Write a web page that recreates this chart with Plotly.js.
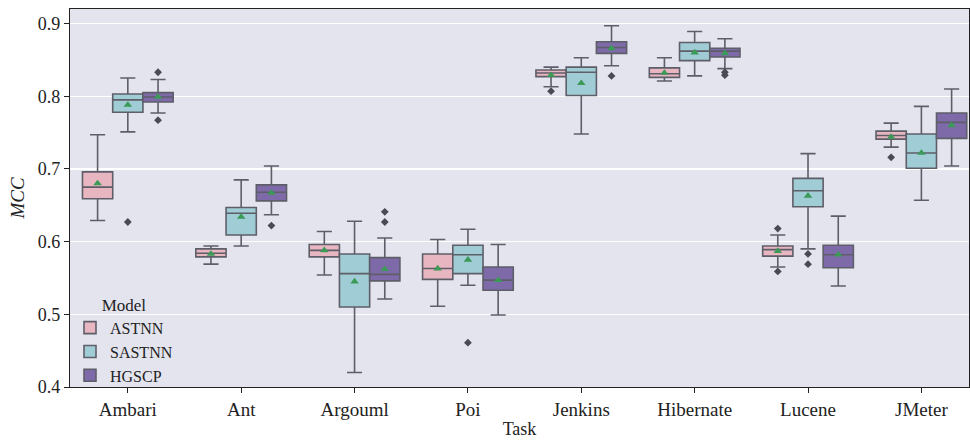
<!DOCTYPE html>
<html>
<head>
<meta charset="utf-8">
<script src="https://cdn.plot.ly/plotly-3.0.1.min.js"></script>
<style>html,body{margin:0;padding:0;background:#fff;}#chart{width:970px;height:441px;}</style>
</head>
<body>
<div id="chart"></div>
<script>
const tasks = ["Ambari","Ant","Argouml","Poi","Jenkins","Hibernate","Lucene","JMeter"];
const models = ["ASTNN","SASTNN","HGSCP"];
const colors = ["#e8b6c0","#a0ccd5","#7e6aa9"];

// Box statistics per model, ordered by task
const astnnLow  = [0.629,0.569,0.554,0.511,0.813,0.821,0.565,0.730];
const astnnQ1   = [0.659,0.579,0.579,0.548,0.827,0.826,0.580,0.741];
const astnnMed  = [0.675,0.584,0.588,0.563,0.832,0.831,0.589,0.746];
const astnnQ3   = [0.696,0.590,0.596,0.583,0.836,0.839,0.594,0.752];
const astnnHigh = [0.747,0.594,0.614,0.603,0.840,0.853,0.609,0.763];
const astnnMean = [0.680,0.583,0.588,0.563,0.829,0.832,0.587,0.744];

const sastnnLow  = [0.751,0.594,0.420,0.540,0.748,0.828,0.590,0.657];
const sastnnQ1   = [0.778,0.609,0.510,0.556,0.801,0.849,0.648,0.701];
const sastnnMed  = [0.795,0.639,0.556,0.582,0.833,0.862,0.670,0.722];
const sastnnQ3   = [0.803,0.647,0.583,0.595,0.840,0.874,0.687,0.748];
const sastnnHigh = [0.825,0.685,0.628,0.617,0.853,0.889,0.721,0.786];
const sastnnMean = [0.788,0.634,0.545,0.575,0.818,0.860,0.663,0.722];

const hgscpLow  = [0.777,0.637,0.521,0.499,0.842,0.838,0.539,0.704];
const hgscpQ1   = [0.792,0.656,0.546,0.533,0.859,0.854,0.564,0.742];
const hgscpMed  = [0.799,0.668,0.555,0.547,0.867,0.862,0.582,0.764];
const hgscpQ3   = [0.805,0.678,0.578,0.565,0.875,0.866,0.595,0.777];
const hgscpHigh = [0.823,0.704,0.605,0.596,0.897,0.879,0.635,0.810];
const hgscpMean = [0.799,0.667,0.562,0.547,0.866,0.859,0.582,0.760];

// Outliers: task label and value
const astnnOutTask  = ["Jenkins","Lucene","Lucene","JMeter"];
const astnnOutVal   = [0.807,0.618,0.559,0.716];
const sastnnOutTask = ["Ambari","Poi","Lucene","Lucene"];
const sastnnOutVal  = [0.627,0.461,0.583,0.569];
const hgscpOutTask  = ["Ambari","Ambari","Ant","Argouml","Argouml","Jenkins","Hibernate","Hibernate"];
const hgscpOutVal   = [0.833,0.767,0.622,0.641,0.627,0.828,0.833,0.829];

const stats = [
  {low:astnnLow,q1:astnnQ1,med:astnnMed,q3:astnnQ3,high:astnnHigh,mean:astnnMean,ot:astnnOutTask,ov:astnnOutVal},
  {low:sastnnLow,q1:sastnnQ1,med:sastnnMed,q3:sastnnQ3,high:sastnnHigh,mean:sastnnMean,ot:sastnnOutTask,ov:sastnnOutVal},
  {low:hgscpLow,q1:hgscpQ1,med:hgscpMed,q3:hgscpQ3,high:hgscpHigh,mean:hgscpMean,ot:hgscpOutTask,ov:hgscpOutVal}
];

const lineCol = "#5e5e69";
const traces = [];
models.forEach((m,i)=>{
  const s = stats[i];
  traces.push({
    type:"box", name:m, x:tasks, q1:s.q1, median:s.med, q3:s.q3,
    lowerfence:s.low, upperfence:s.high,
    offsetgroup:m, alignmentgroup:"a",
    fillcolor:colors[i], line:{color:lineCol,width:1.6},
    whiskerwidth:0.5, boxpoints:false, hoverinfo:"skip"
  });
});
models.forEach((m,i)=>{
  const s = stats[i];
  traces.push({
    type:"scatter", mode:"markers", x:tasks, y:s.mean, showlegend:false,
    offsetgroup:m, alignmentgroup:"a",
    marker:{symbol:"triangle-up", size:7.5, color:"#3c9a57"}, hoverinfo:"skip"
  });
  traces.push({
    type:"scatter", mode:"markers", x:s.ot, y:s.ov, showlegend:false,
    offsetgroup:m, alignmentgroup:"a",
    marker:{symbol:"diamond", size:6, color:"#4a4a55"}, hoverinfo:"skip"
  });
});

const fam = "Liberation Serif, Times New Roman, serif";
const txt = "#222";
const layout = {
  width:970, height:441,
  margin:{l:70, r:1, t:9, b:54},
  paper_bgcolor:"#ffffff", plot_bgcolor:"#e4e4ee",
  font:{family:fam, color:txt, size:18},
  boxmode:"group", boxgap:0.2, boxgroupgap:0,
  scattermode:"group", scattergap:0.2,
  showlegend:true,
  legend:{x:0.0, y:-0.015, xanchor:"left", yanchor:"bottom",
    bgcolor:"rgba(0,0,0,0)", font:{family:fam,size:16,color:txt},
    title:{text:"Model", side:"top center", font:{family:fam,size:17,color:txt}},
    tracegroupgap:0, itemwidth:30},
  xaxis:{type:"category", categoryorder:"array", categoryarray:tasks,
    range:[-0.51,7.42], showgrid:false, zeroline:false,
    showline:true, linecolor:"#222", linewidth:1.2, mirror:true,
    ticks:"outside", ticklen:5, tickcolor:"#222",
    tickfont:{family:fam,size:19,color:txt},
    title:{text:"Task", font:{family:fam,size:18,color:txt}, standoff:3}},
  yaxis:{range:[0.4,0.92], tickvals:[0.4,0.5,0.6,0.7,0.8,0.9],
    ticktext:["0.4","0.5","0.6","0.7","0.8","0.9"],
    showgrid:true, gridcolor:"#ffffff", gridwidth:1.2, zeroline:false,
    showline:true, linecolor:"#222", linewidth:1.2, mirror:true,
    ticks:"outside", ticklen:5, tickcolor:"#222",
    tickfont:{family:fam,size:18,color:txt},
    title:{text:"<i>MCC</i>", font:{family:fam,size:19,color:txt}, standoff:8}}
};
Plotly.newPlot("chart", traces, layout, {staticPlot:true, displayModeBar:false});
</script>
</body>
</html>
